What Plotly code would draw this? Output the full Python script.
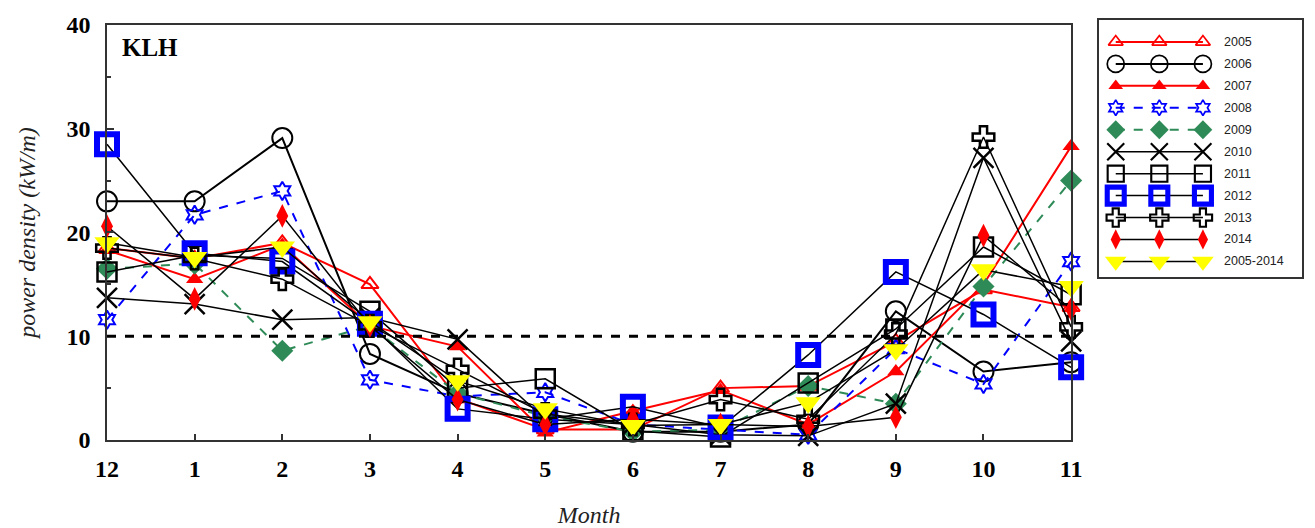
import plotly.graph_objects as go

# Month order on the x axis (December through November)
months = ["12", "1", "2", "3", "4", "5", "6", "7", "8", "9", "10", "11"]

# Monthly mean wave power density (kW/m) at KLH
p2005 = [18.5, 17.5, 19.0, 15.0, 4.0, 1.0, 1.0, 5.0, 5.2, 9.5, 14.5, 12.8]
p2006 = [23.0, 23.0, 29.1, 8.3, 4.5, 2.5, 0.8, 0.8, 1.5, 12.4, 6.6, 7.5]
p2007 = [18.3, 15.5, 18.8, 11.0, 9.0, 0.7, 2.8, 4.8, 1.5, 6.6, 15.0, 28.3]
p2008 = [11.6, 21.7, 24.0, 5.8, 4.2, 4.6, 1.5, 1.0, 0.5, 8.8, 5.4, 17.2]
p2009 = [16.5, 17.0, 8.6, 11.0, 4.5, 2.3, 0.8, 1.0, 5.2, 3.5, 14.8, 25.0]
p2010 = [13.7, 13.1, 11.6, 11.8, 9.7, 2.0, 1.5, 0.5, 0.4, 3.5, 27.2, 9.5]
p2011 = [16.2, 17.8, 17.5, 12.4, 5.0, 5.9, 0.9, 0.3, 5.5, 10.7, 18.6, 14.0]
p2012 = [28.5, 18.0, 17.2, 11.2, 3.0, 2.0, 3.2, 1.2, 8.2, 16.2, 12.1, 7.0]
p2013 = [18.5, 17.5, 15.5, 11.0, 6.8, 2.5, 1.5, 3.9, 2.0, 10.2, 29.2, 10.9]
p2014 = [20.6, 13.6, 21.6, 11.0, 3.9, 1.5, 2.0, 1.5, 1.3, 2.2, 19.7, 12.6]
p_mean = [19.0, 17.6, 18.6, 11.4, 5.7, 3.0, 1.4, 1.5, 3.6, 8.7, 16.4, 14.8]

threshold = 10
y_ticks = [0, 10, 20, 30, 40]

# name, values, line colour, line dash, line width, marker symbol, size, fill, marker outline, outline width
series = [
    ("2005", p2005, "red", "solid", 2, "triangle-up-open", 15, "red", "red", 2),
    ("2006", p2006, "black", "solid", 2, "circle-open", 20, "black", "black", 2),
    ("2007", p2007, "red", "solid", 2, "triangle-up", 15, "red", "red", 0),
    ("2008", p2008, "blue", "dash", 2, "hexagram-open", 14, "blue", "blue", 2),
    ("2009", p2009, "#2e8b57", "dash", 2, "diamond", 17, "#2e8b57", "#2e8b57", 0),
    ("2010", p2010, "black", "solid", 1.5, "x-thin-open", 20, "black", "black", 2.5),
    ("2011", p2011, "black", "solid", 1.5, "square-open", 19, "black", "black", 2.5),
    ("2012", p2012, "black", "solid", 1.5, "square-open", 20, "blue", "blue", 6),
    ("2013", p2013, "black", "solid", 1.5, "cross-open", 18, "black", "black", 2.5),
    ("2014", p2014, "black", "solid", 1.5, "diamond-tall", 17, "red", "red", 0),
    ("2005-2014", p_mean, "black", "solid", 1.5, "triangle-down", 22, "yellow", "yellow", 0),
]

fig = go.Figure()

for name, vals, lc, dash, lw, sym, size, fill, mline, mlw in series:
    fig.add_trace(go.Scatter(
        x=list(range(len(months))), y=vals, mode="lines+markers", name=name,
        line=dict(color=lc, dash=dash, width=lw),
        marker=dict(symbol=sym, size=size, color=fill,
                    line=dict(color=mline, width=mlw)),
        cliponaxis=False, showlegend=False,
    ))

# Legend drawn in its own small panel, three sample markers per row
row_step = 22
sample_x = [17, 61, 105]
for i, (name, vals, lc, dash, lw, sym, size, fill, mline, mlw) in enumerate(series):
    row_y = row_step * (i + 1)
    fig.add_trace(go.Scatter(
        x=sample_x, y=[row_y] * 3, mode="lines+markers",
        line=dict(color=lc, dash=dash, width=lw),
        marker=dict(symbol=sym, size=size * 0.85, color=fill,
                    line=dict(color=mline, width=mlw * 0.85)),
        xaxis="x2", yaxis="y2", showlegend=False, hoverinfo="skip",
        cliponaxis=False,
    ))
    fig.add_annotation(
        x=124, y=row_y, xref="x2", yref="y2", text=name, showarrow=False,
        xanchor="left", yanchor="middle",
        font=dict(family="Liberation Sans", size=12.5, color="#222222"),
    )

# Dashed reference level
fig.add_shape(type="line", xref="x", yref="y", x0=0, x1=len(months) - 1,
              y0=threshold, y1=threshold,
              line=dict(color="black", width=3, dash="dash"))

W, H = 1315, 528
ml, mt, mb = 107, 18, 87
pw = W - ml
ph = H - mt - mb
plot_right = 1080

fig.add_annotation(x=(120 - ml) / pw, y=(441 - 48) / ph, xref="paper", yref="paper",
                   text="<b>KLH</b>", showarrow=False, xanchor="left", yanchor="middle",
                   font=dict(family="Liberation Serif", size=25, color="black"))

fig.update_layout(
    width=W, height=H,
    margin=dict(l=ml, r=0, t=mt, b=mb),
    paper_bgcolor="white", plot_bgcolor="white",
    xaxis=dict(
        domain=[0, (plot_right - ml) / pw],
        range=[0, len(months) - 1],
        tickmode="array", tickvals=list(range(len(months))), ticktext=months,
        ticks="inside", ticklen=6, tickwidth=1.5, tickcolor="#333333",
        ticklabelstandoff=6,
        showline=True, mirror=True, linecolor="#333333", linewidth=1.5,
        showgrid=False, zeroline=False,
        tickfont=dict(family="Liberation Serif", size=24, color="black", weight="bold"),
        title=dict(text="Month", standoff=30,
                   font=dict(family="Liberation Serif", size=24, color="#222222", style="italic")),
    ),
    yaxis=dict(
        domain=[0, (441 - 25) / ph],
        range=[0, 40],
        tickmode="array", tickvals=y_ticks,
        ticks="inside", ticklen=7, tickwidth=1.5, tickcolor="#333333",
        ticklabelstandoff=10,
        minor=dict(dtick=5, ticks="inside", ticklen=4, tickcolor="#333333"),
        showline=True, mirror=True, linecolor="#333333", linewidth=1.5,
        showgrid=False, zeroline=False,
        tickfont=dict(family="Liberation Serif", size=24, color="black", weight="bold"),
        title=dict(text="power density (kW/m)", standoff=24,
                   font=dict(family="Liberation Serif", size=24, color="#222222", style="italic")),
    ),
    xaxis2=dict(
        domain=[(1108 - ml) / pw, (1313 - ml) / pw],
        range=[0, 205], showticklabels=False, ticks="", showgrid=False,
        zeroline=False, showline=True, mirror=True, linecolor="#333333",
        linewidth=1.5, anchor="y2",
    ),
    yaxis2=dict(
        domain=[(441 - 278) / ph, (441 - 20) / ph],
        range=[258, 0], showticklabels=False, ticks="", showgrid=False,
        zeroline=False, showline=True, mirror=True, linecolor="#333333",
        linewidth=1.5, anchor="x2",
    ),
)

fig.write_html("out.html")
